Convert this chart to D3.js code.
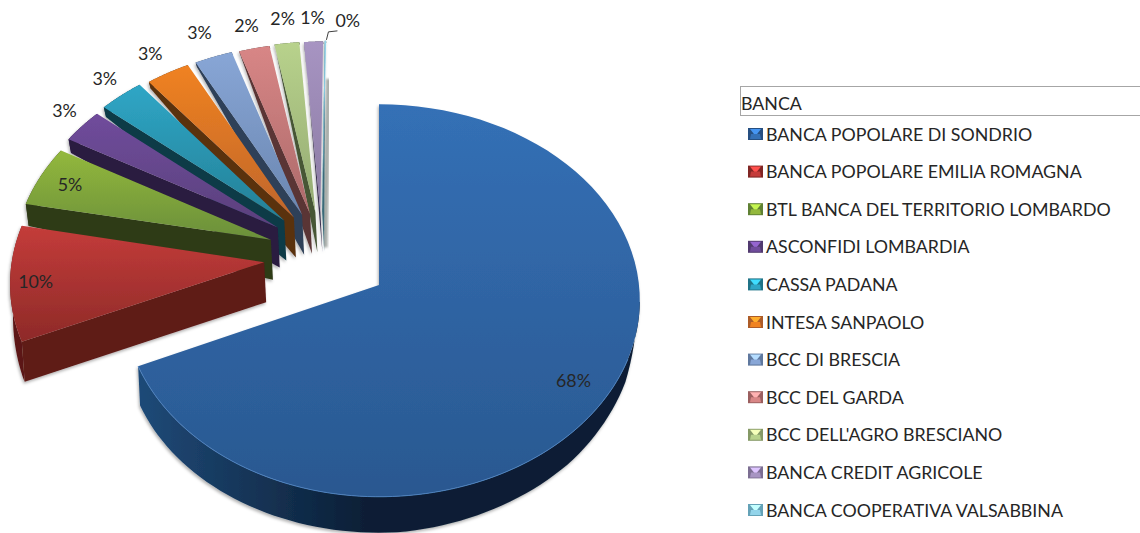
<!DOCTYPE html>
<html>
<head>
<meta charset="utf-8">
<script src="https://cdn.jsdelivr.net/npm/d3@7"></script>
<style>
  html, body { margin: 0; padding: 0; background: #fff; }
  svg { display: block; }
  text { font-family: Lato, "Open Sans", sans-serif; fill: #262626; }
</style>
</head>
<body>
<div id="chart"></div>
<script>
const legend_title = "BANCA";
const banks = ["BANCA POPOLARE DI SONDRIO", "BANCA POPOLARE EMILIA ROMAGNA", "BTL BANCA DEL TERRITORIO LOMBARDO",
  "ASCONFIDI LOMBARDIA", "CASSA PADANA", "INTESA SANPAOLO", "BCC DI BRESCIA", "BCC DEL GARDA",
  "BCC DELL'AGRO BRESCIANO", "BANCA CREDIT AGRICOLE", "BANCA COOPERATIVA VALSABBINA"];
// share in percent
const shares = [68.4, 9.7, 5.1, 2.9, 3.1, 3.0, 2.6, 2.1, 1.7, 1.3, 0.1];
const top_light = ["#3470b6", "#c43c3a", "#93b83c", "#704c9c", "#2fa6c6", "#f08220", "#88a6d6", "#d88686", "#b8d28c", "#a794c2", "#93d4ea"];
const top_dark = ["#2a5890", "#8e2a28", "#6a8f3a", "#5a407c", "#248096", "#c0662c", "#6a86b0", "#ac6a6a", "#94aa72", "#8a7aa2", "#6fb4cc"];
const wall_light = ["#1f4a78", "#5e1a17", "#2f3a18", "#2a1a40", "#0c3a47", "#5a3010", "#2f4058", "#5a3434", "#465636", "#3a3050", "#3a6a78"];
const wall_dark = ["#0b1f36", "#5a1613", "#2b3516", "#26173a", "#0a3440", "#522b0e", "#2a3a50", "#502e2e", "#3e4d30", "#342b48", "#a9aeaa"];

const width = 1140, height = 533;
const cx = 379, cy = 285, rad_x = 260, rad_y = 195, persp = 0.079;
const explode = [0, 0.47, 0.485, 0.5, 0.505, 0.49, 0.48, 0.465, 0.46, 0.45, 0.45];

// pie plane -> screen, with a bit of perspective
function project(u, v, k = 1) {
  const s = 1 / (1 + persp * v);
  return [cx + s * u * rad_x * (u < 0 ? k : 1), cy - s * v * rad_y];
}
// how far the bottom of the side wall drops, depends on the height on screen
const depth_outer = d3.scaleLinear().domain([40, 110, 203, 338, 497]).range([2, 10, 22, 40, 36]).clamp(true);
const depth_apex = 40;
// the big slice wall fades out towards the right side
const main_fade = d3.scaleLinear().domain([97, 112, 135, 175, 250]).range([0, 0.55, 0.78, 1, 1]).clamp(true);

const pie = d3.pie().sort(null).value(d => d.share);
const slices = pie(banks.map((name, i) => ({name, share: shares[i], i})));

// direction in which a slice is pulled out of the pie
function explode_dir(mid) {
  const b = mid * 180 / Math.PI;
  const d = b < 310 ? 310 - (310 - b) * 0.55 : 310 + (b - 310) * 0.4;
  return d * Math.PI / 180;
}
slices.forEach((d, i) => {
  const mid = (d.startAngle + d.endAngle) / 2;
  const dir = explode_dir(mid);
  const k = i < 2 ? 0.98 : 1; // front slices read a little narrower on the left
  d.mid = mid;
  d.ou = explode[i] * Math.sin(dir);
  d.ov = explode[i] * Math.cos(dir);
  d.at = (a, r) => project(d.ou + r * Math.sin(a), d.ov + r * Math.cos(a), k);
  d.rim = a => d.at(a, 1);
  d.apex = d.at(0, 0);
});

const svg = d3.select("#chart").append("svg").attr("width", width).attr("height", height);
const defs = svg.append("defs");

slices.forEach((d, i) => {
  const g1 = defs.append("linearGradient").attr("id", "top" + i).attr("x1", 0).attr("y1", 0).attr("x2", 0).attr("y2", 1);
  g1.append("stop").attr("offset", "0%").attr("stop-color", top_light[i]);
  g1.append("stop").attr("offset", "100%").attr("stop-color", top_dark[i]);
  const g2 = defs.append("linearGradient").attr("id", "wall" + i).attr("x1", 0).attr("y1", 0).attr("x2", 1).attr("y2", 0);
  g2.append("stop").attr("offset", "0%").attr("stop-color", wall_light[i]);
  g2.append("stop").attr("offset", i == 0 ? "45%" : "100%").attr("stop-color", wall_dark[i]);
});
const shadow = defs.append("filter").attr("id", "shadow").attr("x", "-10%").attr("y", "-10%").attr("width", "120%").attr("height", "120%");
shadow.append("feDropShadow").attr("dx", -1).attr("dy", 2).attr("stdDeviation", 1.5).attr("flood-color", "#000").attr("flood-opacity", 0.3);
const blur = defs.append("filter").attr("id", "blur");
blur.append("feGaussianBlur").attr("stdDeviation", 0.8);

const line = d3.line();
function rim_points(d, a0, a1) {
  return d3.range(0, 81).map(k => d.rim(a0 + (a1 - a0) * k / 80));
}
const drop = (p, f = 1) => [p[0] + (cx - p[0]) * 0.008, p[1] + depth_outer(p[1]) * f];

// grey shade behind the thin last slice
const last = slices[10];
const lp = last.rim(last.mid);
svg.append("path").attr("fill", "none").attr("stroke", "#a9aeaa").attr("stroke-width", 5).attr("filter", "url(#blur)")
  .attr("d", line([[lp[0] + 3, lp[1] + 38], [last.apex[0] + 3, last.apex[1] + 36]]));

const pie_g = svg.append("g").attr("filter", "url(#shadow)");
// back slices first, the big one last
const order = slices.slice(1).reverse().concat([slices[0]]);
const sl = pie_g.selectAll("g.slice").data(order).enter().append("g").attr("class", "slice");

// rim wall
sl.append("path")
  .attr("fill", d => `url(#wall${d.index})`)
  .attr("d", d => {
    const a0 = d.index == 0 ? 95 * Math.PI / 180 : d.startAngle;
    const angs = d3.range(0, 81).map(k => a0 + (d.endAngle - a0) * k / 80);
    const upper = angs.map(a => d.rim(a));
    const lower = angs.map(a => drop(d.rim(a), d.index == 0 ? main_fade(a * 180 / Math.PI) : 1));
    return line(upper.concat(lower.reverse())) + "Z";
  });
// radial wall on the start edge (main slice has it hidden)
sl.filter(d => d.index > 0).append("path")
  .attr("fill", d => wall_light[d.index])
  .attr("d", d => {
    const o = d.rim(d.startAngle);
    return line([d.apex, o, drop(o), [d.apex[0] + 2, d.apex[1] + depth_apex]]) + "Z";
  });
// top face
sl.append("path")
  .attr("fill", d => `url(#top${d.index})`)
  .attr("d", d => line([d.apex].concat(rim_points(d, d.startAngle, d.endAngle))) + "Z");
// light edge on the big slice
sl.filter(d => d.index == 0).append("path")
  .attr("fill", "none").attr("stroke", "#4c80bd").attr("stroke-width", 1)
  .attr("d", d => line(rim_points(d, 1.95, d.endAngle)));

// data labels
const fmt = d3.format(".0f");
const label_r = [0.86, 0.9, 0.87, 1.12, 1.13, 1.15, 1.17, 1.15, 1.16, 1.16, 1.13];
const label_turn = [0, 0, 0, 1.5, 1, 0, 0, 0, 0, 0, 0]; // degrees
svg.append("g").selectAll("text").data(slices).enter().append("text")
  .attr("text-anchor", "middle").attr("dominant-baseline", "central").attr("font-size", 17.8)
  .text(d => fmt(d.data.share) + "%")
  .attr("transform", d => {
    const p = d.at(d.mid + label_turn[d.index] * Math.PI / 180, label_r[d.index]);
    if (d.index == 10) p[0] += 22;
    return `translate(${p[0]},${p[1]})`;
  });
// leader for the 0% label
svg.append("path").attr("fill", "none").attr("stroke", "#404040").attr("stroke-width", 1)
  .attr("d", line([[lp[0] + 1, lp[1] - 1], [lp[0] + 3, lp[1] - 9], [lp[0] + 12, lp[1] - 10]]));

// legend
const ly = d3.scalePoint().domain(banks).range([134, 510]);
svg.append("rect").attr("x", 740.5).attr("y", 86.5).attr("width", 400).attr("height", 29)
  .attr("fill", "#fff").attr("stroke", "#a6a6a6").attr("stroke-width", 1);
svg.append("text").attr("x", 741).attr("y", 109.5).attr("font-size", 17.8).text(legend_title);
const leg = svg.append("g").selectAll("g").data(banks).enter().append("g")
  .attr("transform", d => `translate(748,${ly(d)})`);
// bevelled marker: frame, then lighter top and darker bottom
leg.append("rect").attr("y", -6).attr("width", 15).attr("height", 12).attr("fill", (d, i) => d3.color(top_dark[i]).darker(0.3));
leg.append("path").attr("fill", (d, i) => d3.color(top_light[i]).brighter(0.8))
  .attr("d", line([[2, -5], [13, -5], [7.5, 2]]) + "Z");
leg.append("path").attr("fill", (d, i) => top_light[i])
  .attr("d", line([[2, 5], [13, 5], [12, 0], [3, 0]]) + "Z");
leg.append("text").attr("x", 18).attr("y", 6.5).attr("font-size", 17.8).text(d => d);
</script>
</body>
</html>
